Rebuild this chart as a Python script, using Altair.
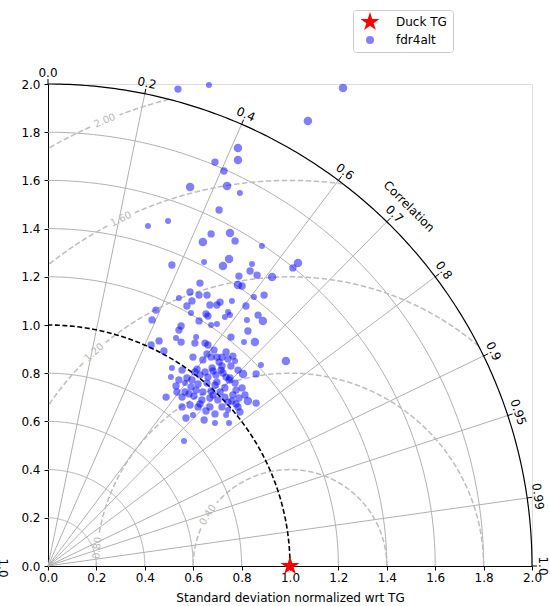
import math
import altair as alt
import numpy as np
import pandas as pd

# ---------------- data ----------------
# model points in normalized std units: x = std*corr, y = std*sqrt(1-corr^2)
model_x = [0.537, 0.665, 1.219, 1.074, 0.785, 0.785, 0.690, 0.727, 0.740, 0.587,
           0.793, 0.707, 0.413, 0.496, 0.674, 0.752, 0.640, 0.773, 0.884, 0.512,
           0.645, 0.748, 0.723, 0.843, 0.835, 0.864, 0.789, 0.926, 1.033, 1.012,
           0.628, 0.785, 0.802, 0.893, 0.587, 0.624, 0.657, 0.541, 0.595, 0.574,
           0.669, 0.711, 0.698, 0.760, 0.818, 0.851, 0.446, 0.430, 0.591, 0.653,
           0.661, 0.744, 0.752, 0.731, 0.624, 0.674, 0.698, 0.822, 0.868, 0.888,
           0.550, 0.541, 0.826, 0.529, 0.550, 0.612, 0.607, 0.649, 0.661, 0.756,
           0.810, 0.855, 0.459, 0.426, 0.479, 0.599, 0.657, 0.674, 0.698, 0.719,
           0.744, 0.773, 0.983, 0.880, 0.512, 0.554, 0.678, 0.715, 0.719, 0.806,
           0.860, 0.616, 0.682, 0.723, 0.508, 0.574, 0.595, 0.661, 0.657, 0.698,
           0.748, 0.529, 0.591, 0.620, 0.488, 0.533, 0.554, 0.583, 0.603, 0.640,
           0.674, 0.711, 0.731, 0.744, 0.702, 0.636, 0.826, 0.860, 0.554, 0.620,
           0.669, 0.719, 0.744, 0.653, 0.570, 0.599, 0.645, 0.690, 0.748, 0.562,
           0.628, 0.690, 0.731, 0.764, 0.789, 0.669, 0.607, 0.566, 0.777, 0.752,
           0.686, 0.736, 0.764, 0.640, 0.707, 0.756, 0.785, 0.649, 0.694, 0.736,
           0.773, 0.802, 0.777, 0.814, 0.785, 0.760, 0.682, 0.612, 0.566, 0.541,
           0.628, 0.587, 0.690, 0.793, 0.736]
model_y = [1.979, 1.996, 1.983, 1.846, 1.734, 1.685, 1.676, 1.639, 1.577, 1.573,
           1.548, 1.477, 1.411, 1.432, 1.378, 1.382, 1.344, 1.349, 1.328, 1.249,
           1.261, 1.274, 1.245, 1.253, 1.224, 1.207, 1.203, 1.199, 1.257, 1.237,
           1.174, 1.166, 1.162, 1.124, 1.137, 1.124, 1.124, 1.112, 1.100, 1.079,
           1.083, 1.095, 1.083, 1.100, 1.079, 1.116, 1.062, 1.021, 1.050, 1.046,
           1.037, 1.054, 1.041, 1.033, 1.017, 1.000, 1.004, 1.021, 1.041, 1.017,
           0.996, 0.979, 0.975, 0.946, 0.929, 0.950, 0.925, 0.925, 0.917, 0.950,
           0.929, 0.929, 0.934, 0.917, 0.892, 0.867, 0.880, 0.867, 0.867, 0.867,
           0.859, 0.851, 0.851, 0.834, 0.822, 0.813, 0.822, 0.813, 0.830, 0.797,
           0.797, 0.817, 0.809, 0.801, 0.784, 0.780, 0.772, 0.784, 0.759, 0.763,
           0.772, 0.747, 0.743, 0.755, 0.701, 0.722, 0.701, 0.714, 0.705, 0.722,
           0.726, 0.722, 0.701, 0.680, 0.689, 0.689, 0.685, 0.676, 0.660, 0.660,
           0.660, 0.660, 0.647, 0.643, 0.614, 0.627, 0.606, 0.593, 0.593, 0.519,
           0.793, 0.751, 0.739, 0.710, 0.697, 0.697, 0.805, 0.759, 0.672, 0.780,
           0.896, 0.888, 0.871, 0.855, 0.846, 0.830, 0.813, 0.805, 0.793, 0.784,
           0.759, 0.739, 0.730, 0.710, 0.660, 0.685, 0.710, 0.730, 0.722, 0.772,
           0.672, 0.668, 0.631, 0.639, 0.627]
# marker size class of each model point (1 small, 2 medium, 3 large)
model_cls = [2, 1, 3, 3, 3, 3, 2, 2, 3, 3,
             1, 2, 1, 1, 2, 3, 3, 2, 1, 2,
             1, 3, 3, 1, 2, 2, 2, 3, 3, 2,
             2, 3, 2, 2, 2, 2, 2, 1, 2, 2,
             2, 2, 2, 1, 2, 1, 2, 2, 1, 2,
             2, 1, 1, 1, 2, 1, 1, 1, 2, 3,
             2, 2, 2, 1, 2, 1, 2, 2, 2, 2,
             1, 3, 2, 2, 2, 2, 2, 2, 2, 2,
             2, 1, 3, 1, 1, 2, 2, 2, 2, 3,
             2, 2, 2, 2, 1, 2, 2, 2, 2, 2,
             2, 2, 2, 2, 2, 2, 2, 2, 2, 2,
             2, 2, 2, 2, 2, 2, 3, 2, 2, 2,
             2, 2, 1, 2, 2, 1, 2, 1, 1, 1,
             2, 2, 2, 2, 2, 2, 2, 1, 2, 2,
             2, 2, 2, 2, 2, 2, 2, 2, 2, 2,
             2, 2, 2, 2, 2, 2, 2, 2, 2, 2,
             2, 2, 2, 2, 1]

ref_std = 1.0
series = ["Duck TG", "fdr4alt"]
std_ticks = [0.0, 0.2, 0.4, 0.6, 0.8, 1.0, 1.2, 1.4, 1.6, 1.8, 2.0]
std_grid = [0.2, 0.4, 0.6, 0.8, 1.2, 1.4, 1.6, 1.8]
std_max = 2.0
corr_ticks = [0.0, 0.2, 0.4, 0.6, 0.7, 0.8, 0.9, 0.95, 0.99, 1.0]
corr_labels = ["0.0", "0.2", "0.4", "0.6", "0.7", "0.8", "0.9", "0.95", "0.99", "1.0"]
rms_levels = [0.4, 0.8, 1.2, 1.6, 2.0]
rms_labels = ["0.40", "0.80", "1.20", "1.60", "2.00"]
rms_label_phi = [148.0, 174.6, 132.4, 115.9, 112.5]  # where each contour label sits (deg around ref)

# ---------------- geometry tables ----------------
PX = 242.0  # approx pixels per unit, used only for label gaps
t = np.linspace(0, np.pi / 2, 181)
arc_rows = []
for r in std_grid:
    for i, tt in enumerate(t):
        arc_rows.append({"key": f"g{r}", "i": i, "x": r * math.cos(tt), "y": r * math.sin(tt)})
grid_arcs = pd.DataFrame(arc_rows)

ref_arc = pd.DataFrame([{"key": "ref", "i": i, "x": ref_std * math.cos(tt), "y": ref_std * math.sin(tt)}
                        for i, tt in enumerate(t)])
outer_arc = pd.DataFrame([{"key": "out", "i": i, "x": std_max * math.cos(tt), "y": std_max * math.sin(tt)}
                          for i, tt in enumerate(t)])

radial = pd.DataFrame([{"x": 0.0, "y": 0.0,
                        "xe": std_max * c, "ye": std_max * math.sin(math.acos(c))}
                       for c in corr_ticks[1:-1]])

ticks = pd.DataFrame([{"x": std_max * c, "y": std_max * math.sin(math.acos(c)),
                       "xe": 2.021 * c, "ye": 2.021 * math.sin(math.acos(c))}
                      for c in corr_ticks])

corr_lab = pd.DataFrame([{"x": 2.045 * c, "y": 2.045 * math.sin(math.acos(c)), "text": lab,
                          "rot": (90 - math.degrees(math.acos(c))) % 360}
                         for c, lab in zip(corr_ticks, corr_labels)])
corr_title = pd.DataFrame([{"x": 2.11 * math.cos(math.radians(45)), "y": 2.11 * math.sin(math.radians(45)),
                            "text": "Correlation", "rot": 45}])

rms_rows = []
phis = np.linspace(0, 180, 1441)
for R, phl in zip(rms_levels, rms_label_phi):
    gap = math.degrees(15.0 / (R * PX))
    seg = 0
    prev = False
    for k, ph in enumerate(phis):
        x = ref_std + R * math.cos(math.radians(ph))
        y = R * math.sin(math.radians(ph))
        inside = x >= 0 and x * x + y * y <= std_max ** 2 + 1e-9 and abs(ph - phl) > gap
        if inside:
            if not prev:
                seg += 1
            rms_rows.append({"key": f"{R}-{seg}", "i": k, "x": x, "y": y})
        prev = inside
rms_df = pd.DataFrame(rms_rows)
rms_lab = pd.DataFrame([{"x": ref_std + R * math.cos(math.radians(p)), "y": R * math.sin(math.radians(p)),
                         "text": lab, "rot": (90 - p) % 360}
                        for R, p, lab in zip(rms_levels, rms_label_phi, rms_labels)])

points = pd.DataFrame({"x": model_x, "y": model_y, "cls": model_cls, "series": series[1]})
ref_pt = pd.DataFrame({"x": [ref_std], "y": [0.0], "series": [series[0]]})

# ---------------- encodings ----------------
FONT = "DejaVu Sans"
sx = alt.Scale(domain=[0, std_max], nice=False, zero=False)
sy = alt.Scale(domain=[0, std_max], nice=False, zero=False)
ax_x = alt.Axis(values=std_ticks, format=".1f", grid=False, tickSize=4, tickColor="black",
                domainColor="black", labelColor="black", labelFont=FONT, labelFontSize=12,
                labelPadding=2, labelFlush=False, labelOverlap=False,
                title="Standard deviation normalized wrt TG", titleFont=FONT, titleFontSize=12,
                titleFontWeight="normal", titleColor="black", titlePadding=9)
ax_y = alt.Axis(values=std_ticks, format=".1f", grid=False, tickSize=4, tickColor="black",
                domainColor="black", labelColor="black", labelFont=FONT, labelFontSize=12,
                labelPadding=4, labelFlush=False, labelOverlap=False)
X = alt.X("x:Q", scale=sx, axis=ax_x, title="Standard deviation normalized wrt TG")
Y = alt.Y("y:Q", scale=sy, axis=ax_y, title=None)

star_path = ("M0,-2.5L0.561,-0.773L2.378,-0.773L0.908,0.295L1.469,2.023L0,0.955"
             "L-1.469,2.023L-0.908,0.295L-2.378,-0.773L-0.561,-0.773Z")
leg = alt.Legend(title=None, orient="none", legendX=305, legendY=-74, fillColor="white",
                 strokeColor="#cccccc", padding=6, cornerRadius=3, labelFont=FONT,
                 labelFontSize=12, labelColor="black", symbolSize=64, labelOffset=20,
                 symbolOffset=5, rowPadding=3, symbolStrokeWidth=0)
color = alt.Color("series:N", scale=alt.Scale(domain=series, range=["#ff0000", "rgba(0,0,255,0.5)"]),
                  legend=leg)
shape = alt.Shape("series:N", scale=alt.Scale(domain=series, range=[star_path, "circle"]), legend=leg)

grid_layer = alt.Chart(grid_arcs).mark_line(color="#b0b0b0", strokeWidth=1).encode(
    x=X, y=Y, detail="key:N", order="i:Q")
radial_layer = alt.Chart(radial).mark_rule(color="#b0b0b0", strokeWidth=1).encode(
    x=X, y=Y, x2="xe:Q", y2="ye:Q")
rms_layer = alt.Chart(rms_df).mark_line(color="#bdbdbd", strokeWidth=1.5, strokeDash=[5.5, 2.5]).encode(
    x=X, y=Y, detail="key:N", order="i:Q")
rms_text = alt.Chart(rms_lab).mark_text(font=FONT, fontSize=10, color="#b8b8b8").encode(
    x=X, y=Y, text="text:N", angle=alt.Angle("rot:Q", scale=None))
ref_layer = alt.Chart(ref_arc).mark_line(color="black", strokeWidth=1.6, strokeDash=[5, 2.5]).encode(
    x=X, y=Y, order="i:Q")
outer_layer = alt.Chart(outer_arc).mark_line(color="black", strokeWidth=1.2).encode(
    x=X, y=Y, order="i:Q")
tick_layer = alt.Chart(ticks).mark_rule(color="black", strokeWidth=1).encode(
    x=X, y=Y, x2="xe:Q", y2="ye:Q")
corr_text = alt.Chart(corr_lab).mark_text(font=FONT, fontSize=12, color="black").encode(
    x=X, y=Y, text="text:N", angle=alt.Angle("rot:Q", scale=None))
corr_title_layer = alt.Chart(corr_title).mark_text(font=FONT, fontSize=12, color="black").encode(
    x=X, y=Y, text="text:N", angle=alt.Angle("rot:Q", scale=None))
# fragment of a neighbouring panel's label, cut by the left edge of the picture
edge_text = alt.Chart(pd.DataFrame({"text": ["1.0"]})).mark_text(
    font=FONT, fontSize=12, color="black", angle=90).encode(
    x=alt.value(-45), y=alt.value(484), text="text:N")
pts_layer = alt.Chart(points).mark_point(filled=True, strokeWidth=0, opacity=1).encode(
    x=X, y=Y, color=color, shape=shape,
    size=alt.Size("cls:O", scale=alt.Scale(domain=[1, 2, 3], range=[36, 72, 120]), legend=None))
ref_layer_pt = alt.Chart(ref_pt).mark_point(filled=True, strokeWidth=0, opacity=1, size=64).encode(
    x=X, y=Y, color=color, shape=shape)

chart = alt.layer(
    grid_layer, radial_layer, rms_layer, rms_text, ref_layer, outer_layer,
    tick_layer, corr_text, corr_title_layer, edge_text, pts_layer, ref_layer_pt
).properties(
    width=484, height=482,
    padding={"left": 48, "top": 84, "right": 18, "bottom": 40},
    autosize=alt.AutoSizeParams(type="none"),
    background="white",
).configure_view(stroke=None).configure(font=FONT)

chart.save("out.html", embed_options={"renderer": "svg", "actions": False})
